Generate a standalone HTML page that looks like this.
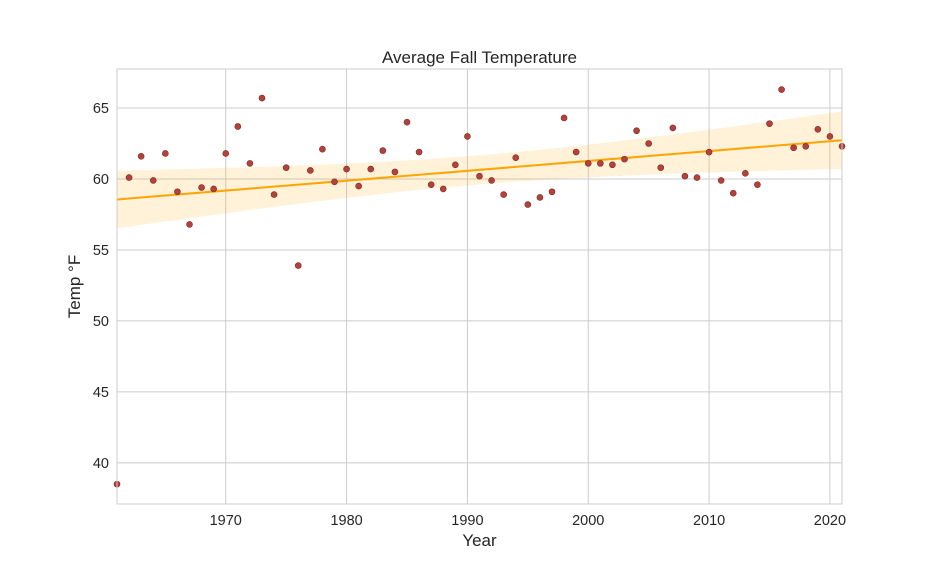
<!DOCTYPE html>
<html><head><meta charset="utf-8"><style>
body{margin:0;background:#fff;}
svg{display:block;font-family:"Liberation Sans","DejaVu Sans",sans-serif;}
</style></head><body>
<svg id="chart" width="936" height="576" viewBox="0 0 936 576" xmlns="http://www.w3.org/2000/svg"></svg>
<script>
const years=[1961,1962,1963,1964,1965,1966,1967,1968,1969,1970,1971,1972,1973,1974,1975,1976,1977,1978,1979,1980,1981,1982,1983,1984,1985,1986,1987,1988,1989,1990,1991,1992,1993,1994,1995,1996,1997,1998,1999,2000,2001,2002,2003,2004,2005,2006,2007,2008,2009,2010,2011,2012,2013,2014,2015,2016,2017,2018,2019,2020,2021];
const temps=[38.5,60.1,61.6,59.9,61.8,59.1,56.8,59.4,59.3,61.8,63.7,61.1,65.7,58.9,60.8,53.9,60.6,62.1,59.8,60.7,59.5,60.7,62.0,60.5,64.0,61.9,59.6,59.3,61.0,63.0,60.2,59.9,58.9,61.5,58.2,58.7,59.1,64.3,61.9,61.1,61.1,61.0,61.4,63.4,62.5,60.8,63.6,60.2,60.1,61.9,59.9,59.0,60.4,59.6,63.9,66.3,62.2,62.3,63.5,63.0,62.3];
const xTicks=[1970,1980,1990,2000,2010,2020];
const yTicks=[40,45,50,55,60,65];
const L=117,R=842,T=69,B=504,x0=1961,x1=2021,y0=37.1,y1=67.75;
const sx=v=>L+(v-x0)/(x1-x0)*(R-L);
const sy=v=>B-(v-y0)/(y1-y0)*(B-T);
const svg=document.getElementById('chart');
const NS='http://www.w3.org/2000/svg';
function mk(tag,attrs,name){const e=document.createElementNS(NS,tag);for(const k in attrs)e.setAttribute(k,attrs[k]);


svg.appendChild(e);return e;}
mk('rect',{x:L,y:T,width:R-L,height:B-T,fill:'#fff'},'plot-area');
xTicks.forEach(t=>{mk('line',{x1:sx(t),x2:sx(t),y1:T,y2:B,stroke:'#cccccc','stroke-width':1},'x-grid-line');
const tx=mk('text',{x:sx(t),y:B+21,'text-anchor':'middle','font-size':14.5,fill:'#262626'},'x-tick-label');tx.textContent=t;});
yTicks.forEach(t=>{mk('line',{x1:L,x2:R,y1:sy(t),y2:sy(t),stroke:'#cccccc','stroke-width':1},'y-grid-line');
const tx=mk('text',{x:L-8,y:sy(t)+5,'text-anchor':'end','font-size':14.5,fill:'#262626'},'y-tick-label');tx.textContent=t;});
const n=years.length,mx=years.reduce((a,b)=>a+b)/n,my=temps.reduce((a,b)=>a+b)/n;
let sxx=0,sxy=0;years.forEach((v,i)=>{sxx+=(v-mx)**2;sxy+=(v-mx)*(temps[i]-my);});
const b=sxy/sxx,a=my-b*mx;let sse=0;years.forEach((v,i)=>{sse+=(temps[i]-a-b*v)**2;});
const s=Math.sqrt(sse/(n-2)),tc=2.4;
const up=[],lo=[];for(let k=0;k<=60;k++){const xv=x0+k*(x1-x0)/60;const se=s*Math.sqrt(1/n+(xv-mx)**2/sxx);const yv=a+b*xv;
up.push(sx(xv)+','+sy(yv+tc*se));lo.unshift(sx(xv)+','+sy(yv-tc*se));}
mk('polygon',{points:up.concat(lo).join(' '),fill:'rgba(255,165,0,0.15)'},'confidence-band');
mk('line',{x1:sx(x0),y1:sy(a+b*x0),x2:sx(x1),y2:sy(a+b*x1),stroke:'#ffa500','stroke-width':2},'regression-line');
years.forEach((v,i)=>mk('circle',{cx:sx(v),cy:sy(temps[i]),r:3,fill:'#b5413b',stroke:'#7a2a26','stroke-width':0.6},'data-point'));
mk('rect',{x:L,y:T,width:R-L,height:B-T,fill:'none',stroke:'#cccccc','stroke-width':1},'plot-border');
let t=mk('text',{x:(L+R)/2,y:63,'text-anchor':'middle','font-size':17,fill:'#262626'},'chart-title');t.textContent='Average Fall Temperature';
t=mk('text',{x:(L+R)/2,y:546,'text-anchor':'middle','font-size':17,fill:'#262626'},'x-axis-title');t.textContent='Year';
t=mk('text',{x:80,y:(T+B)/2,'text-anchor':'middle','font-size':17,fill:'#262626',transform:'rotate(-90 80 '+(T+B)/2+')'},'y-axis-title');t.textContent='Temp °F';
</script>
</body></html>
